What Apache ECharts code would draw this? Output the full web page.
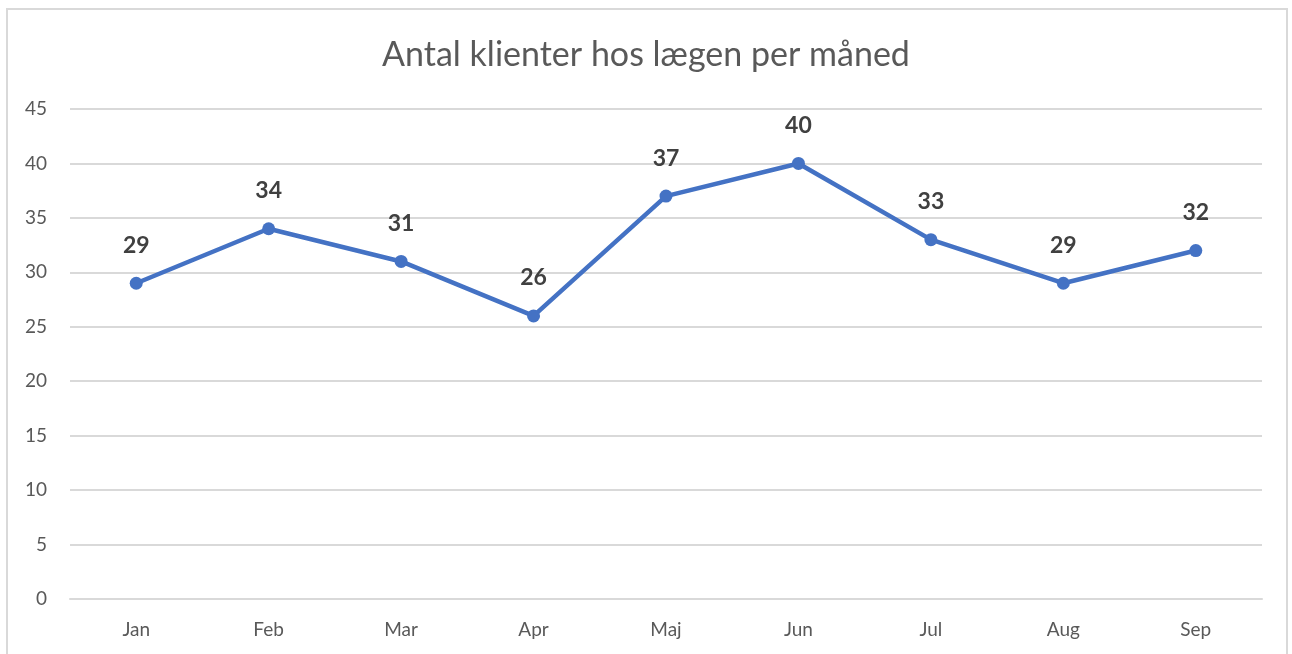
<!DOCTYPE html>
<html>
<head>
<meta charset="utf-8">
<script src="https://cdn.jsdelivr.net/npm/echarts@6/dist/echarts.min.js"></script>
<style>
  html, body { margin: 0; padding: 0; background: #fff; }
  #frame {
    position: absolute; left: 6px; top: 8px; width: 1282px; height: 660px;
    border: 2px solid #d9d9d9; box-sizing: border-box;
  }
  #chart { position: absolute; left: 0; top: 0; width: 1292px; height: 654px; }
</style>
</head>
<body>
<div id="frame"></div>
<div id="chart"></div>
<script>
const months = ['Jan', 'Feb', 'Mar', 'Apr', 'Maj', 'Jun', 'Jul', 'Aug', 'Sep']
const clients = [29, 34, 31, 26, 37, 40, 33, 29, 32]
const titleText = 'Antal klienter hos lægen per måned'

const fontFamily = 'Lato, "Open Sans", sans-serif'
const chart = echarts.init(document.getElementById('chart'))

chart.setOption({
  title: {
    text: titleText,
    left: 'center',
    top: 33,
    textStyle: {
      fontFamily,
      fontSize: 34,
      fontWeight: 'normal',
      color: '#595959'
    }
  },
  grid: {
    left: 70,
    right: 30,
    top: 109,
    bottom: 55
  },
  xAxis: {
    type: 'category',
    data: months,
    axisLine: { lineStyle: { color: '#d9d9d9', width: 2 } },
    axisTick: { show: false },
    axisLabel: {
      margin: 21,
      fontFamily,
      fontSize: 19,
      color: '#595959'
    }
  },
  yAxis: {
    type: 'value',
    min: 0,
    max: 45,
    interval: 5,
    axisLine: { show: false },
    axisTick: { show: false },
    axisLabel: {
      margin: 23,
      fontFamily,
      fontSize: 19,
      color: '#595959'
    },
    splitLine: { lineStyle: { color: '#d9d9d9', width: 2 } }
  },
  series: [
    {
      type: 'line',
      data: clients,
      symbol: 'circle',
      symbolSize: 13,
      lineStyle: { color: '#4472c4', width: 4.5 },
      itemStyle: { color: '#4472c4' },
      label: {
        show: true,
        position: 'top',
        distance: 20,
        fontFamily,
        fontSize: 23,
        fontWeight: 'bold',
        color: '#404040'
      }
    }
  ]
})
</script>
</body>
</html>
